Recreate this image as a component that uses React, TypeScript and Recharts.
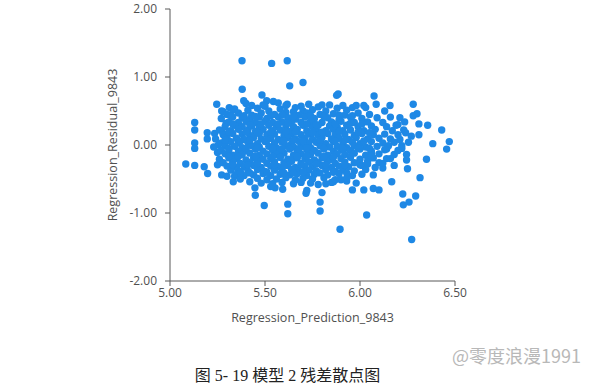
import { ScatterChart, Scatter, XAxis, YAxis } from "recharts";

// [prediction, residual] pairs
const outerPoints: [number, number][] = [
  [5.083, -0.28], [5.13, -0.3], [5.18, -0.32], [5.198, -0.42], [5.13, 0.33], [5.13, 0.22],
  [5.13, 0.03], [5.13, -0.05], [5.196, 0.18], [5.196, 0.09], [5.235, 0.17], [5.254, 0.0],
  [5.25, -0.11], [5.25, -0.29], [5.272, -0.44], [5.3, -0.46], [5.333, -0.54], [5.34, -0.46],
  [5.42, -0.54], [5.447, -0.63], [5.449, -0.74], [5.496, -0.89], [5.246, 0.6], [5.272, 0.5],
  [5.312, 0.55], [5.33, 0.51], [5.388, 0.65], [5.4, 0.61], [5.38, 0.82], [5.379, 1.24],
  [5.484, 0.735], [5.509, 0.65], [5.535, 1.2], [5.617, 1.24], [5.63, 0.87], [5.7, 0.92],
  [5.877, 0.73], [5.885, 0.75], [5.544, 0.64], [5.57, 0.62], [5.617, 0.6], [5.65, 0.49],
  [5.7, 0.5], [5.73, 0.6], [5.8, 0.59], [5.84, 0.59], [5.96, 0.55], [5.98, 0.58],
  [6.02, 0.58], [6.074, 0.72], [6.28, 0.6], [6.3, 0.46], [6.28, 0.43], [6.158, 0.58],
  [6.13, 0.5], [6.085, 0.6], [6.21, 0.4], [6.235, 0.34], [6.31, 0.31], [6.356, 0.29],
  [6.43, 0.22], [6.47, 0.05], [6.456, -0.06], [6.383, 0.02], [6.31, 0.15], [6.27, 0.13],
  [6.23, 0.22], [6.255, 0.04], [6.21, 0.08], [6.22, -0.01], [6.35, -0.21], [6.245, -0.22],
  [6.245, -0.14], [6.18, -0.14], [6.1, -0.26], [6.14, -0.2], [6.07, -0.44], [6.07, -0.64],
  [6.1, -0.66], [6.167, -0.54], [6.316, -0.48], [6.225, -0.72], [6.293, -0.75], [6.228, -0.88],
  [6.258, -0.84], [6.272, -1.39], [6.035, -1.03], [5.895, -1.24], [5.96, -0.66], [6.02, -0.66],
  [5.79, -0.84], [5.79, -0.97], [5.8, -0.7], [5.716, -0.71], [5.72, -0.67], [5.62, -0.87],
  [5.62, -1.01], [5.553, -0.63], [5.53, -0.61], [5.593, -0.65], [5.78, -0.58], [5.85, -0.55],
  [5.9, -0.51], [5.93, -0.53], [6.2, 0.3], [6.24, 0.18], [6.12, -0.34], [6.18, -0.3],
  [6.06, -0.12], [6.14, -0.06], [6.22, -0.05], [6.25, -0.35], [5.28, 0.49], [5.295, 0.32],
  [5.28, 0.17], [5.49, 0.59], [6.0, -0.29], [5.86, -0.54],
];

const upperCore: [number, number][] = [
  [5.43, 0.58], [5.5, 0.57], [5.61, 0.58], [5.69, 0.57], [5.78, 0.56], [5.91, 0.58], [6.03, 0.55],
  [5.34, 0.53], [5.41, 0.51], [5.46, 0.54], [5.52, 0.5], [5.58, 0.53], [5.66, 0.55], [5.75, 0.52],
  [5.82, 0.5], [5.88, 0.54], [5.93, 0.51],
  [5.3, 0.45], [5.36, 0.47], [5.43, 0.44], [5.48, 0.47], [5.55, 0.45], [5.61, 0.48], [5.68, 0.44],
  [5.72, 0.47], [5.79, 0.45], [5.86, 0.46], [5.92, 0.44], [5.99, 0.47], [6.05, 0.45],
  [5.27, 0.39], [5.33, 0.41], [5.38, 0.4], [5.42, 0.38], [5.47, 0.41], [5.51, 0.39], [5.57, 0.41],
  [5.62, 0.4], [5.66, 0.38], [5.71, 0.41], [5.76, 0.39], [5.83, 0.4], [5.89, 0.38], [5.95, 0.41],
  [6.01, 0.39], [6.09, 0.4], [6.16, 0.41],
  [5.31, 0.34], [5.36, 0.33], [5.4, 0.35], [5.45, 0.33], [5.5, 0.35], [5.54, 0.33], [5.59, 0.34],
  [5.64, 0.35], [5.69, 0.33], [5.74, 0.35], [5.8, 0.33], [5.85, 0.34], [5.9, 0.35], [5.97, 0.33],
  [6.04, 0.34], [6.12, 0.33],
  [5.29, 0.27], [5.34, 0.29], [5.38, 0.27], [5.43, 0.28], [5.47, 0.26], [5.52, 0.29], [5.56, 0.27],
  [5.61, 0.28], [5.65, 0.27], [5.7, 0.29], [5.75, 0.27], [5.78, 0.29], [5.84, 0.28], [5.88, 0.26],
  [5.93, 0.29], [5.99, 0.27], [6.06, 0.28], [6.14, 0.27], [6.19, 0.29],
  [5.26, 0.22], [5.32, 0.21], [5.36, 0.23], [5.41, 0.22], [5.45, 0.2], [5.49, 0.23], [5.54, 0.21],
  [5.58, 0.22], [5.63, 0.2], [5.67, 0.23], [5.72, 0.21], [5.77, 0.22], [5.82, 0.21], [5.86, 0.23],
  [5.91, 0.21], [5.95, 0.22], [6.02, 0.21], [6.08, 0.23], [6.17, 0.21],
  [5.28, 0.15], [5.33, 0.17], [5.38, 0.16], [5.42, 0.14], [5.47, 0.17], [5.51, 0.15], [5.55, 0.16],
  [5.6, 0.14], [5.64, 0.17], [5.69, 0.15], [5.73, 0.16], [5.78, 0.14], [5.83, 0.17], [5.87, 0.15],
  [5.92, 0.16], [5.97, 0.14], [6.01, 0.17], [6.07, 0.15], [6.13, 0.16], [6.2, 0.15],
  [5.24, 0.09], [5.3, 0.11], [5.35, 0.1], [5.39, 0.08], [5.44, 0.11], [5.48, 0.09], [5.53, 0.1],
  [5.57, 0.08], [5.62, 0.11], [5.66, 0.09], [5.71, 0.1], [5.75, 0.08], [5.8, 0.11], [5.85, 0.09],
  [5.89, 0.1], [5.94, 0.08], [5.98, 0.11], [6.04, 0.09], [6.1, 0.1], [6.16, 0.09],
  [5.27, 0.03], [5.32, 0.05], [5.36, 0.03], [5.41, 0.04], [5.46, 0.02], [5.5, 0.05], [5.55, 0.03],
  [5.59, 0.04], [5.64, 0.02], [5.68, 0.05], [5.73, 0.03], [5.77, 0.04], [5.82, 0.02], [5.86, 0.05],
  [5.91, 0.03], [5.96, 0.04], [6.0, 0.02], [6.06, 0.05], [6.12, 0.03], [6.18, 0.04],
];

const lowerCore: [number, number][] = [
  [5.23, -0.03], [5.29, -0.01], [5.34, -0.02], [5.38, -0.04], [5.43, -0.01], [5.47, -0.03],
  [5.52, -0.02], [5.56, -0.04], [5.61, -0.01], [5.65, -0.03], [5.7, -0.02], [5.74, -0.04],
  [5.79, -0.01], [5.84, -0.03], [5.88, -0.02], [5.93, -0.04], [5.97, -0.01], [6.03, -0.03],
  [6.09, -0.02], [6.15, -0.01],
  [5.27, -0.08], [5.31, -0.07], [5.36, -0.09], [5.4, -0.08], [5.45, -0.06], [5.49, -0.09],
  [5.54, -0.07], [5.58, -0.08], [5.63, -0.06], [5.67, -0.09], [5.72, -0.07], [5.76, -0.08],
  [5.81, -0.06], [5.86, -0.09], [5.9, -0.07], [5.95, -0.08], [6.0, -0.06], [6.06, -0.09],
  [6.13, -0.07], [6.2, -0.08],
  [5.29, -0.13], [5.33, -0.15], [5.38, -0.14], [5.42, -0.12], [5.47, -0.15], [5.51, -0.13],
  [5.56, -0.14], [5.6, -0.12], [5.65, -0.15], [5.69, -0.13], [5.74, -0.14], [5.78, -0.12],
  [5.83, -0.15], [5.88, -0.13], [5.92, -0.14], [5.97, -0.12], [6.03, -0.15], [6.1, -0.13],
  [5.26, -0.21], [5.31, -0.19], [5.35, -0.2], [5.4, -0.22], [5.44, -0.19], [5.49, -0.21],
  [5.53, -0.2], [5.58, -0.18], [5.62, -0.21], [5.67, -0.19], [5.71, -0.2], [5.76, -0.22],
  [5.8, -0.19], [5.85, -0.21], [5.9, -0.2], [5.95, -0.18], [6.0, -0.21], [6.07, -0.19], [6.16, -0.2],
  [5.28, -0.26], [5.33, -0.25], [5.37, -0.27], [5.42, -0.26], [5.46, -0.24], [5.51, -0.27],
  [5.55, -0.25], [5.6, -0.26], [5.64, -0.24], [5.69, -0.27], [5.73, -0.25], [5.78, -0.26],
  [5.83, -0.24], [5.87, -0.27], [5.92, -0.25], [5.97, -0.26], [6.04, -0.24], [6.12, -0.27],
  [5.3, -0.31], [5.35, -0.33], [5.39, -0.32], [5.44, -0.3], [5.48, -0.33], [5.53, -0.31],
  [5.57, -0.32], [5.62, -0.3], [5.66, -0.33], [5.71, -0.31], [5.75, -0.32], [5.8, -0.3],
  [5.85, -0.33], [5.89, -0.31], [5.94, -0.32], [6.01, -0.3], [6.08, -0.33],
  [5.32, -0.37], [5.37, -0.39], [5.41, -0.38], [5.46, -0.36], [5.5, -0.39], [5.55, -0.37],
  [5.59, -0.38], [5.64, -0.36], [5.68, -0.39], [5.73, -0.37], [5.77, -0.38], [5.82, -0.36],
  [5.87, -0.39], [5.91, -0.37], [5.97, -0.38], [6.03, -0.36],
  [5.35, -0.43], [5.39, -0.45], [5.44, -0.44], [5.49, -0.42], [5.53, -0.45], [5.58, -0.43],
  [5.63, -0.44], [5.67, -0.42], [5.72, -0.45], [5.76, -0.43], [5.83, -0.44], [5.89, -0.42],
  [5.96, -0.45], [6.01, -0.43],
  [5.37, -0.5], [5.46, -0.49], [5.51, -0.51], [5.56, -0.5], [5.61, -0.48], [5.66, -0.51],
  [5.7, -0.49], [5.75, -0.5], [5.81, -0.48], [5.87, -0.51], [5.93, -0.49],
  [5.48, -0.56], [5.54, -0.57], [5.59, -0.55], [5.65, -0.57], [5.69, -0.55], [5.74, -0.56],
  [5.82, -0.57], [5.98, -0.56],
];

// extra points packed into the densest part of the cloud
const denseCore: [number, number][] = [
  [5.32, 0.43], [5.39, 0.43], [5.45, 0.42], [5.53, 0.43], [5.59, 0.44], [5.65, 0.42], [5.74, 0.43],
  [5.81, 0.42], [5.89, 0.44], [5.96, 0.43],
  [5.33, 0.31], [5.42, 0.3], [5.48, 0.31], [5.57, 0.31], [5.62, 0.32], [5.72, 0.31], [5.77, 0.3],
  [5.87, 0.31], [5.95, 0.32], [6.01, 0.31],
  [5.31, 0.19], [5.4, 0.19], [5.46, 0.18], [5.53, 0.19], [5.61, 0.2], [5.66, 0.19], [5.75, 0.18],
  [5.8, 0.19], [5.89, 0.2], [5.99, 0.19], [6.05, 0.18],
  [5.29, 0.07], [5.37, 0.06], [5.42, 0.07], [5.51, 0.07], [5.6, 0.06], [5.65, 0.07], [5.7, 0.06],
  [5.79, 0.07], [5.87, 0.06], [5.92, 0.07], [6.02, 0.06],
  [5.31, -0.05], [5.4, -0.05], [5.46, -0.04], [5.54, -0.05], [5.59, -0.06], [5.68, -0.05],
  [5.72, -0.04], [5.81, -0.05], [5.91, -0.05], [5.99, -0.04], [6.05, -0.05],
  [5.31, -0.17], [5.36, -0.17], [5.45, -0.16], [5.54, -0.17], [5.58, -0.18], [5.67, -0.17],
  [5.72, -0.16], [5.81, -0.17], [5.86, -0.18], [5.95, -0.17], [6.06, -0.16],
  [5.33, -0.29], [5.41, -0.29], [5.46, -0.28], [5.55, -0.29], [5.6, -0.3], [5.69, -0.29],
  [5.77, -0.28], [5.82, -0.29], [5.92, -0.29], [6.04, -0.28],
  [5.37, -0.41], [5.42, -0.41], [5.51, -0.4], [5.6, -0.41], [5.65, -0.41], [5.7, -0.4],
  [5.79, -0.41], [5.86, -0.4], [5.93, -0.41],
];

const xTicks = [5, 5.5, 6, 6.5];
const yTicks = [-2, -1, 0, 1, 2];

const data = [...outerPoints, ...upperCore, ...lowerCore, ...denseCore].map(([pred, resid]) => ({ pred, resid }));

const axisColor = "#595959";
const tickStyle = { fontSize: 12, fill: "#505050", fontFamily: "'Open Sans', sans-serif" };

export default function App() {
  return (
    <div style={{ position: "absolute", left: 0, top: 0, width: 600, height: 388, background: "#fff" }}>
      <ScatterChart width={600} height={388} margin={{ top: 9, right: 145, bottom: 66, left: 106 }}>
        <XAxis
          type="number"
          dataKey="pred"
          domain={[5, 6.5]}
          ticks={xTicks}
          tickFormatter={(v) => v.toFixed(2)}
          height={41}
          stroke={axisColor}
          tickSize={5}
          tick={tickStyle}
          label={{ value: "Regression_Prediction_9843", position: "insideBottom", offset: 0, style: { ...tickStyle, fontSize: 12.5 } }}
        />
        <YAxis
          type="number"
          dataKey="resid"
          domain={[-2, 2]}
          ticks={yTicks}
          tickFormatter={(v) => v.toFixed(2)}
          width={64}
          stroke={axisColor}
          tickSize={5}
          tickMargin={8}
          tick={tickStyle}
          label={{ value: "Regression_Residual_9843", angle: -90, position: "insideLeft", offset: 7, style: { ...tickStyle, fontSize: 12.5, textAnchor: "middle" } }}
        />
        <Scatter
          data={data}
          fill="#1e88e5"
          isAnimationActive={false}
          shape={(p: any) => <circle cx={p.cx} cy={p.cy} r={3.7} fill="#1e88e5" />}
        />
      </ScatterChart>
      <div
        style={{
          position: "absolute", left: 0, width: 600, top: 362, textAlign: "center",
          fontFamily: "'Liberation Serif', 'Noto Sans CJK SC', serif", fontSize: 16, color: "#222",
          paddingRight: 25, boxSizing: "border-box", whiteSpace: "pre",
        }}
      >
        图 5- 19 模型 2 残差散点图
      </div>
      <div
        style={{
          position: "absolute", left: 452, top: 342, fontFamily: "'Noto Sans CJK SC', sans-serif",
          fontSize: 18, color: "#b8b8b8", whiteSpace: "pre",
        }}
      >
        @零度浪漫1991
      </div>
    </div>
  );
}
